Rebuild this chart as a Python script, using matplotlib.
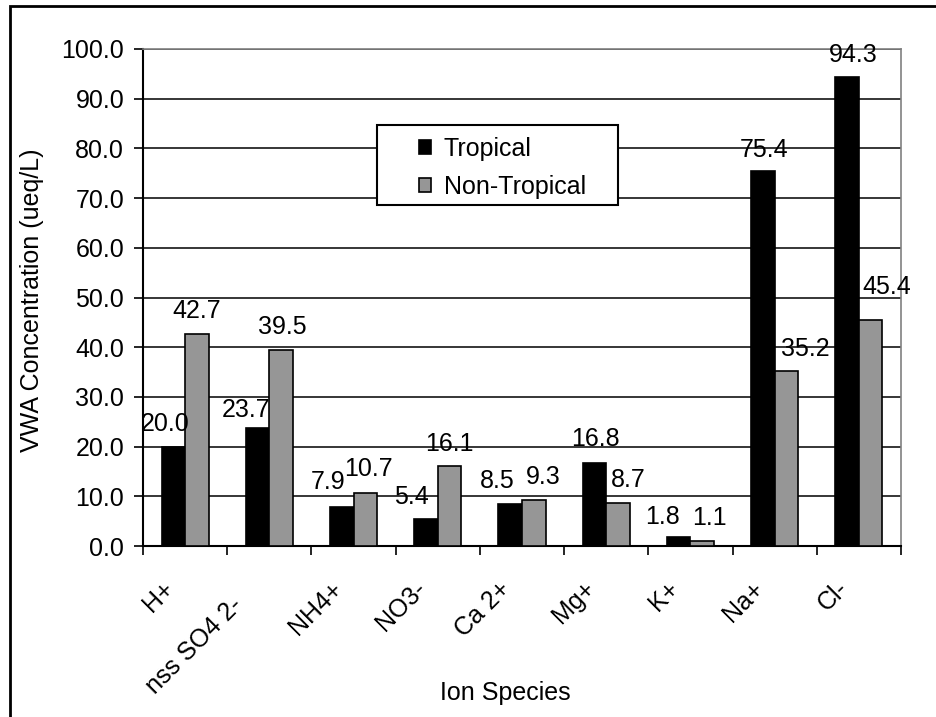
import numpy as np
import matplotlib
matplotlib.use("Agg")
import matplotlib.pyplot as plt
from matplotlib.patches import Rectangle
from matplotlib.ticker import FormatStrFormatter
from matplotlib.transforms import ScaledTranslation

plt.rcParams['font.family'] = ['Liberation Sans', 'DejaVu Sans']

# VWA concentrations (ueq/L) by ion species
ions = ['H+', 'nss SO4 2-', 'NH4+', 'NO3-', 'Ca 2+', 'Mg+', 'K+', 'Na+', 'Cl-']
tropical = [20.0, 23.7, 7.9, 5.4, 8.5, 16.8, 1.8, 75.4, 94.3]
non_tropical = [42.7, 39.5, 10.7, 16.1, 9.3, 8.7, 1.1, 35.2, 45.4]

# value label nudges in pixels (dx, dy above bar top)
trop_off = [(-8, 25), (-11, 20), (-14, 27), (-15, 24), (-13, 25), (1, 26), (-16, 22), (1, 23), (6, 24)]
non_off = [(0, 25), (1, 25), (3, 26), (0, 24), (9, 25), (10, 25), (7, 25), (19, 24), (16, 35)]
# category label nudges in pixels (dx, dy below axis)
cat_off = [(-15, 39)] * 9
cat_off[1] = (-31, 55)

W, H = 937, 717
fig = plt.figure(figsize=(W / 100, H / 100), dpi=100)
ax = fig.add_axes([143 / W, 1 - 546 / H, 758 / W, 497 / H])

x = np.arange(len(ions)) + 0.5
w = 0.28
b1 = ax.bar(x - w / 2, tropical, w, color='black', edgecolor='black', lw=1.2, zorder=3)
b2 = ax.bar(x + w / 2, non_tropical, w, color='#969696', edgecolor='black', lw=1.2, zorder=3)

ax.set_xlim(0, len(ions))
ax.set_ylim(0, 100)
ax.set_yticks(np.arange(0, 101, 10))
ax.yaxis.set_major_formatter(FormatStrFormatter('%.1f'))
ax.set_xticks(np.arange(0, len(ions) + 1))
ax.set_xticklabels([])
ax.yaxis.grid(True, color='black', lw=1.1)
ax.set_axisbelow(True)
ax.tick_params(direction='out', length=6.5, width=1.2, color='black', labelsize=18, pad=7)

for s in ['left', 'bottom']:
    ax.spines[s].set_color('black')
    ax.spines[s].set_linewidth(1.5)
for s in ['top', 'right']:
    ax.spines[s].set_color('#808080')
    ax.spines[s].set_linewidth(1.2)

# category names, rotated, ending just left of the group centre
for xi, name, (dx, dy) in zip(x, ions, cat_off):
    tr = ax.get_xaxis_transform() + ScaledTranslation(dx / 100, -dy / 100, fig.dpi_scale_trans)
    ax.text(xi, 0, name, transform=tr, rotation=45, rotation_mode='anchor',
            ha='right', va='center', fontsize=18)

# value labels
for xi, v, (dx, dy) in zip(x - w / 2, tropical, trop_off):
    ax.annotate(f'{v:.1f}', (xi, v), xytext=(dx, dy - 9), textcoords='offset pixels',
                ha='center', va='baseline', fontsize=18, annotation_clip=False, zorder=5)
for xi, v, (dx, dy) in zip(x + w / 2, non_tropical, non_off):
    ax.annotate(f'{v:.1f}', (xi, v), xytext=(dx, dy - 9), textcoords='offset pixels',
                ha='center', va='baseline', fontsize=18, annotation_clip=False, zorder=5)

fig.text(32 / W, 1 - 300 / H, 'VWA Concentration (ueq/L)', rotation=90,
         ha='center', va='center', fontsize=18)
fig.text(505 / W, 1 - 693 / H, 'Ion Species', ha='center', va='center', fontsize=18)

# legend frame
fig.add_artist(Rectangle((377 / W, 1 - 205 / H), 241 / W, 80 / H, transform=fig.transFigure,
                         fc='white', ec='black', lw=1.5, zorder=4))
leg = fig.legend([b1, b2], ['Tropical', 'Non-Tropical'], loc='center left',
                 bbox_to_anchor=(419 / W, 1 - 168 / H), frameon=False, fontsize=18,
                 handlelength=0.5, handleheight=0.5, handletextpad=0.5,
                 labelspacing=0.55, borderpad=0, borderaxespad=0)
leg.set_zorder(5)

# outer chart border
fig.add_artist(Rectangle((10 / W, -0.05), 1.1, 1.05 - 6 / H, transform=fig.transFigure,
                         fill=False, ec='black', lw=2))

fig.savefig('out.png', dpi=100)
